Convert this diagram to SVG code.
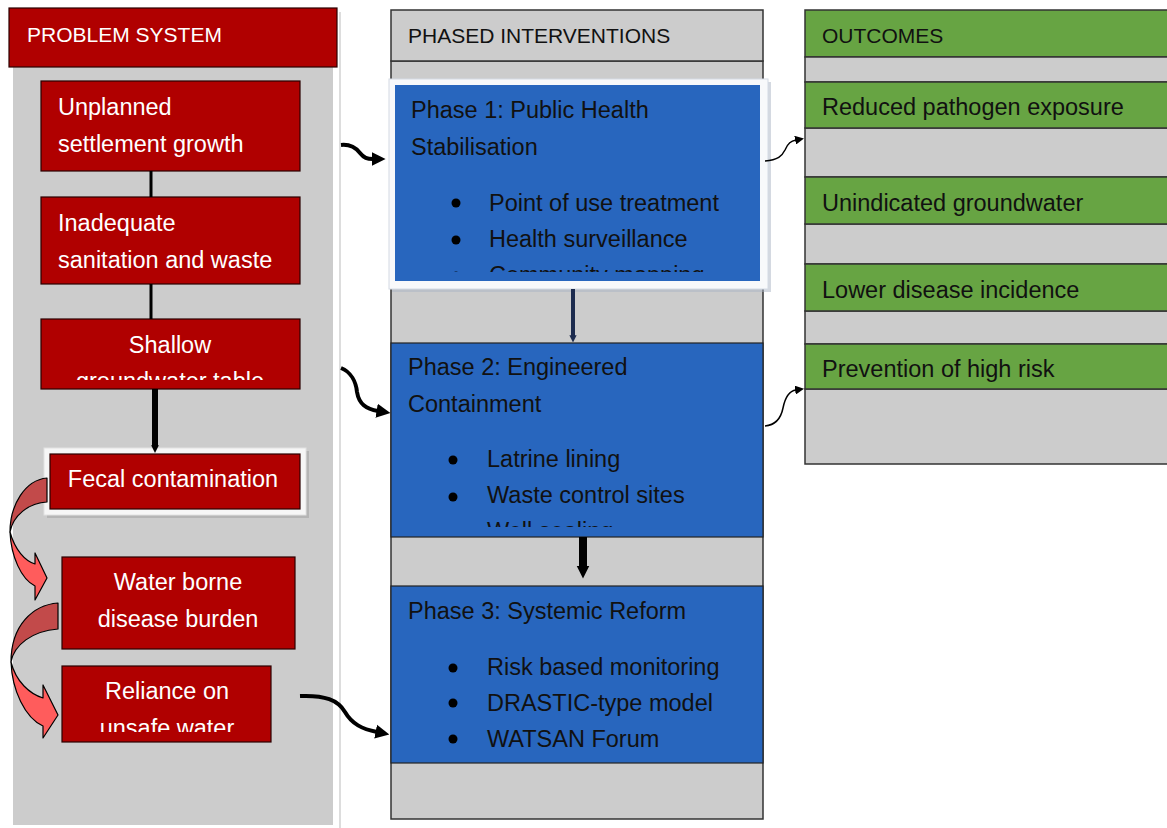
<svg xmlns="http://www.w3.org/2000/svg" width="1167" height="828" viewBox="0 0 1167 828">
<style>
text{font-family:"Liberation Sans",Arial,sans-serif;}
.hd{font-size:21px;}
.bd{font-size:23.5px;}
.w{fill:#ffffff;}
.k{fill:#111111;}
.red{fill:#B00000;stroke:#2a0000;stroke-width:1.2;}
.blue{fill:#2866BE;stroke:#222;stroke-width:1.2;}
.green{fill:#67A443;stroke:#333;stroke-width:1.5;}
.gray{fill:#CCCCCC;stroke:#333;stroke-width:1.5;}
.mid{text-anchor:middle;}
.wave{fill:none;stroke:#000;stroke-width:4;}
.thin{fill:none;stroke:#000;stroke-width:1.5;}
</style>
<defs>
<marker id="ah" viewBox="0 0 10 10" refX="1" refY="5" markerWidth="3.5" markerHeight="4" markerUnits="strokeWidth" orient="auto"><path d="M0,0 L10,5 L0,10 z" fill="#000"/></marker>
<marker id="ahs" viewBox="0 0 10 10" refX="1" refY="5" markerWidth="6" markerHeight="6" markerUnits="strokeWidth" orient="auto"><path d="M0,0 L10,5 L0,10 z" fill="#000"/></marker>
<marker id="ahv1" viewBox="0 0 10 10" refX="1" refY="5" markerWidth="1.3" markerHeight="2.2" markerUnits="strokeWidth" orient="auto"><path d="M0,0 L10,5 L0,10 z" fill="#000"/></marker>
<marker id="ahv2" viewBox="0 0 10 10" refX="1" refY="5" markerWidth="1.6" markerHeight="2.3" markerUnits="strokeWidth" orient="auto"><path d="M0,0 L10,5 L0,10 z" fill="#000"/></marker>
<marker id="ahn" viewBox="0 0 10 10" refX="1" refY="5" markerWidth="1.8" markerHeight="3.2" markerUnits="strokeWidth" orient="auto"><path d="M0,0 L10,5 L0,10 z" fill="#1C2B4E"/></marker>
<clipPath id="c1"><rect x="395" y="85" width="365" height="187"/></clipPath>
<clipPath id="c2"><rect x="391" y="343" width="372" height="184"/></clipPath>
<clipPath id="c3"><rect x="41" y="319" width="259" height="61"/></clipPath>
<clipPath id="c4"><rect x="62" y="666" width="209" height="66"/></clipPath>
</defs>

<!-- Left panel -->
<g id="problem-panel">
<rect x="9" y="8" width="331" height="820" fill="#ffffff"/>
<line x1="340" y1="12" x2="340" y2="828" stroke="#dddddd" stroke-width="2"/>
<rect x="13" y="67" width="320" height="758" fill="#CCCCCC"/>
<rect x="9" y="8" width="328" height="59" class="red"/>
<text x="27" y="42" class="hd w">PROBLEM SYSTEM</text>
</g>

<g id="n-unplanned">
<rect x="41" y="81" width="259" height="90" class="red"/>
<text x="58" y="115" class="bd w">Unplanned</text>
<text x="58" y="152" class="bd w">settlement growth</text>
</g>
<g id="n-inadequate">
<rect x="41" y="197" width="259" height="87" class="red"/>
<text x="58" y="231" class="bd w">Inadequate</text>
<text x="58" y="268" class="bd w">sanitation and waste</text>
</g>
<g id="n-shallow">
<rect x="41" y="319" width="259" height="70" class="red"/>
<g clip-path="url(#c3)">
<text x="170" y="353" class="bd w mid">Shallow</text>
<text x="170" y="389" class="bd w mid">groundwater table</text>
</g>
</g>
<g id="n-fecal">
<rect x="47" y="451" width="262" height="67" fill="#999999" opacity="0.45"/>
<rect x="44" y="448" width="262" height="67" fill="#f6f6f6" stroke="#e2e2e2" stroke-width="1"/>
<rect x="50" y="454" width="250" height="55" class="red"/>
<text x="173" y="487" class="bd w mid">Fecal contamination</text>
</g>
<g id="n-waterborne">
<rect x="62" y="557" width="233" height="92" class="red"/>
<text x="178" y="590" class="bd w mid">Water borne</text>
<text x="178" y="627" class="bd w mid">disease burden</text>
</g>
<g id="n-reliance">
<rect x="62" y="666" width="209" height="76" class="red"/>
<g clip-path="url(#c4)">
<text x="167" y="699" class="bd w mid">Reliance on</text>
<text x="167" y="736" class="bd w mid">unsafe water</text>
</g>
</g>

<!-- Middle panel -->
<g id="interventions-panel">
<rect x="391" y="61" width="372" height="758" class="gray"/>
<rect x="391" y="10" width="372" height="51" class="gray"/>
<text x="408" y="43" class="hd k">PHASED INTERVENTIONS</text>
</g>
<g id="n-phase1">
<rect x="392" y="82" width="379" height="210" fill="#aab4c4" opacity="0.5"/>
<rect x="389" y="79" width="379" height="210" fill="#f8f9fb" stroke="#d4dae4" stroke-width="1"/>
<rect x="395" y="85" width="365" height="196" fill="#2866BE"/>
<g clip-path="url(#c1)">
<text x="411" y="118" class="bd k">Phase 1: Public Health</text>
<text x="411" y="155" class="bd k">Stabilisation</text>
<circle cx="456" cy="203" r="4.5" fill="#000"/>
<text x="489" y="211" class="bd k">Point of use treatment</text>
<circle cx="456" cy="240" r="4.5" fill="#000"/>
<text x="489" y="247" class="bd k">Health surveillance</text>
<circle cx="456" cy="276" r="4.5" fill="#000"/>
<text x="489" y="283" class="bd k">Community mapping</text>
</g>
</g>
<g id="n-phase2">
<rect x="391" y="343" width="372" height="194" class="blue"/>
<g clip-path="url(#c2)">
<text x="408" y="375" class="bd k">Phase 2: Engineered</text>
<text x="408" y="412" class="bd k">Containment</text>
<circle cx="453" cy="460" r="4.5" fill="#000"/>
<text x="487" y="467" class="bd k">Latrine lining</text>
<circle cx="453" cy="497" r="4.5" fill="#000"/>
<text x="487" y="503" class="bd k">Waste control sites</text>
<circle cx="453" cy="533" r="4.5" fill="#000"/>
<text x="487" y="539" class="bd k">Well sealing</text>
</g>
</g>
<g id="n-phase3">
<rect x="391" y="586" width="372" height="177" class="blue"/>
<text x="408" y="619" class="bd k">Phase 3: Systemic Reform</text>
<circle cx="453" cy="668" r="4.5" fill="#000"/>
<text x="487" y="675" class="bd k">Risk based monitoring</text>
<circle cx="453" cy="703" r="4.5" fill="#000"/>
<text x="487" y="711" class="bd k">DRASTIC-type model</text>
<circle cx="453" cy="739" r="4.5" fill="#000"/>
<text x="487" y="747" class="bd k">WATSAN Forum</text>
</g>

<!-- Right panel -->
<g id="outcomes-panel">
<rect x="805" y="10" width="370" height="47" class="green"/>
<text x="822" y="43" class="hd k">OUTCOMES</text>
<rect x="805" y="57" width="370" height="25" class="gray"/>
<rect x="805" y="128" width="370" height="49" class="gray"/>
<rect x="805" y="224" width="370" height="40" class="gray"/>
<rect x="805" y="311" width="370" height="33" class="gray"/>
<rect x="805" y="389" width="370" height="75" class="gray"/>
</g>
<g id="n-reduced">
<rect x="805" y="82" width="370" height="46" class="green"/>
<text x="822" y="115" class="bd k">Reduced pathogen exposure</text>
</g>
<g id="n-unindicated">
<rect x="805" y="177" width="370" height="47" class="green"/>
<text x="822" y="211" class="bd k">Unindicated groundwater</text>
</g>
<g id="n-lower">
<rect x="805" y="264" width="370" height="47" class="green"/>
<text x="822" y="298" class="bd k">Lower disease incidence</text>
</g>
<g id="n-prevention">
<rect x="805" y="344" width="370" height="45" class="green"/>
<text x="822" y="377" class="bd k">Prevention of high risk</text>
</g>

<!-- Connectors -->
<g id="connectors">
<line x1="151" y1="171" x2="151" y2="197" stroke="#000" stroke-width="3"/>
<line x1="151" y1="284" x2="151" y2="319" stroke="#000" stroke-width="3"/>
<line x1="155" y1="389" x2="155" y2="446" stroke="#000" stroke-width="6" marker-end="url(#ahv1)"/>
<line x1="573" y1="289" x2="573" y2="336" stroke="#1C2B4E" stroke-width="4" marker-end="url(#ahn)"/>
<line x1="583" y1="537" x2="583" y2="567" stroke="#000" stroke-width="8" marker-end="url(#ahv2)"/>
<path d="M341,145 C351,144 356,148 360,153 C364,158 367,159 373,159" class="wave" marker-end="url(#ah)"/>
<path d="M341,368 C351,372 356,382 357,392 C359,404 366,409 378,411" class="wave" marker-end="url(#ah)"/>
<path d="M300,696 C325,695 338,700 345,712 C352,724 362,729 377,732" class="wave" marker-end="url(#ah)"/>
<path d="M765,161 C778,160 782,156 785,150 C788,143 791,141 796,140" class="thin" marker-end="url(#ahs)"/>
<path d="M765,426 C776,425 781,418 783,408 C785,398 789,391 796,390" class="thin" marker-end="url(#ahs)"/>
<g stroke="#000" stroke-width="1.2" stroke-linejoin="round">
<path d="M10,532 C11,556 21,579 35,586 L35,600 L47,578 L35,553 L35,564 C25,561 15,550 10,532 Z" fill="#FF5C5C"/>
<path d="M47,478 C25,480 10,505 10,532 C13,516 28,503 47,502 Z" fill="#C24A4A"/>
<path d="M11,662 C12,690 25,718 43,726 L43,738 L58,715 L43,685 L43,698 C30,694 16,682 11,662 Z" fill="#FF5C5C"/>
<path d="M58,603 C33,605 11,625 11,662 C14,645 32,631 58,629 Z" fill="#C24A4A"/>
</g>
</g>
</svg>
